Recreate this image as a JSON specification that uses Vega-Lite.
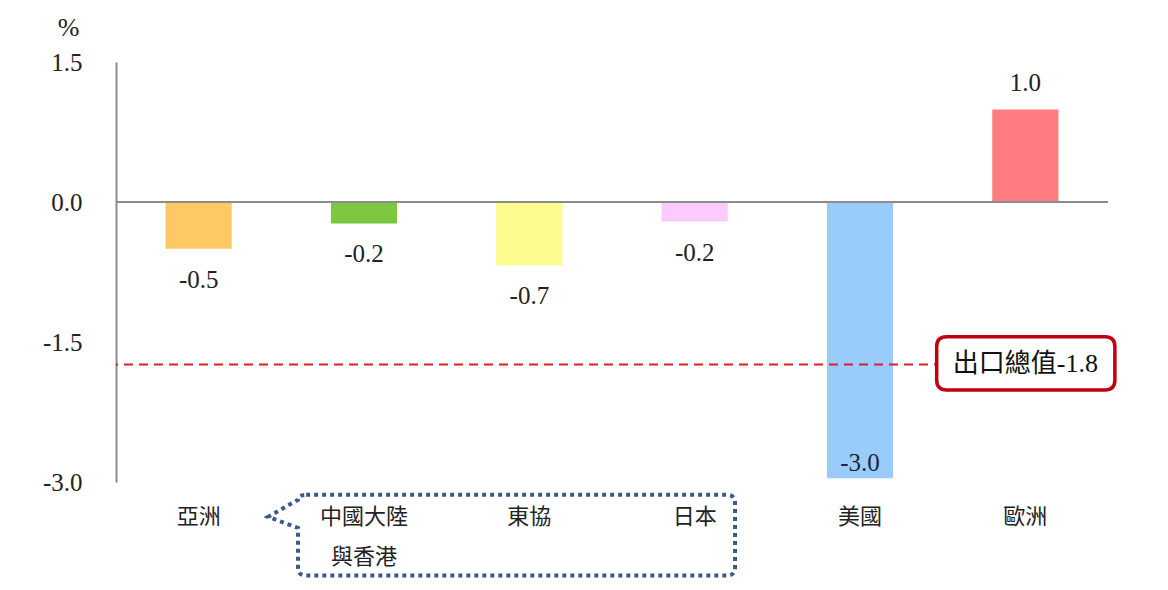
{
  "$schema": "https://vega.github.io/schema/vega-lite/v6.json",
  "autosize": {"type": "none"},
  "padding": {"left": 116, "top": 62, "right": 60, "bottom": 108},
  "width": 992,
  "height": 420,
  "background": "white",
  "config": {
    "view": {"stroke": null},
    "locale": {"number": {"decimal": ".", "thousands": ",", "grouping": [3], "currency": ["$", ""], "minus": "-"}}
  },
  "datasets": {
    "bars": [
      {"region": "亞洲", "value": -0.5},
      {"region": "中國大陸與香港", "value": -0.23},
      {"region": "東協", "value": -0.68},
      {"region": "日本", "value": -0.21},
      {"region": "美國", "value": -2.96},
      {"region": "歐洲", "value": 0.99}
    ],
    "total": [{"label": "出口總值-1.8", "value": -1.74}]
  },
  "encoding": {
    "x": {
      "field": "region", "type": "nominal", "sort": null,
      "scale": {"domain": ["亞洲", "中國大陸與香港", "東協", "日本", "美國", "歐洲"], "paddingInner": 0.6, "paddingOuter": 0.3},
      "axis": {
        "title": null, "domain": false, "ticks": false, "labelAngle": 0,
        "labelFont": "Noto Sans CJK TC", "labelFontSize": 22, "labelColor": "#222222",
        "labelPadding": 24, "labelLineHeight": 40,
        "labelExpr": "datum.value === '中國大陸與香港' ? ['中國大陸', '與香港'] : datum.value"
      }
    }
  },
  "layer": [
    {
      "data": {"name": "bars"},
      "mark": {"type": "bar"},
      "encoding": {
        "y": {
          "field": "value", "type": "quantitative",
          "scale": {"domain": [-3, 1.5], "nice": false, "zero": false},
          "axis": {
            "values": [1.5, 0, -1.5, -3], "format": ".1f", "grid": false, "ticks": false,
            "domainColor": "#8c8c8c", "domainWidth": 2,
            "labelFont": "Liberation Serif", "labelFontSize": 25, "labelColor": "#222222",
            "labelPadding": 34, "labelBaseline": "middle",
            "title": "%", "titleAngle": 0, "titleFont": "Liberation Serif", "titleFontSize": 26,
            "titleFontWeight": "normal", "titleColor": "#222222", "titleX": -48, "titleY": -35,
            "titleAlign": "center", "titleBaseline": "middle"
          }
        },
        "color": {
          "field": "region", "type": "nominal", "legend": null,
          "scale": {"domain": ["亞洲", "中國大陸與香港", "東協", "日本", "美國", "歐洲"],
                    "range": ["#fec865", "#7cc73f", "#fdfd8f", "#fccafc", "#99ccfa", "#ff7c80"]}
        }
      }
    },
    {
      "data": {"values": [{}]},
      "mark": {"type": "rule", "color": "#8c8c8c", "strokeWidth": 2},
      "encoding": {"x": null, "y": {"datum": 0, "type": "quantitative"}}
    },
    {
      "data": {"name": "total"},
      "mark": {"type": "rule", "color": "#dc1f26", "strokeWidth": 2, "strokeDash": [9, 6]},
      "encoding": {"x": null, "y": {"field": "value", "type": "quantitative"}}
    },
    {
      "data": {"name": "bars"},
      "transform": [{"filter": "datum.value < 0 && datum.region !== '美國'"}],
      "mark": {"type": "text", "font": "Liberation Serif", "fontSize": 25, "color": "#222222", "baseline": "middle", "align": "center", "dy": 31},
      "encoding": {
        "y": {"field": "value", "type": "quantitative"},
        "text": {"field": "value", "type": "quantitative", "format": ".1f"}
      }
    },
    {
      "data": {"name": "bars"},
      "transform": [{"filter": "datum.region === '美國'"}],
      "mark": {"type": "text", "font": "Liberation Serif", "fontSize": 25, "color": "#1c2636", "baseline": "middle", "align": "center", "dy": -15},
      "encoding": {
        "y": {"field": "value", "type": "quantitative"},
        "text": {"field": "value", "type": "quantitative", "format": ".1f"}
      }
    },
    {
      "data": {"name": "bars"},
      "transform": [{"filter": "datum.value > 0"}],
      "mark": {"type": "text", "font": "Liberation Serif", "fontSize": 25, "color": "#222222", "baseline": "middle", "align": "center", "dy": -27},
      "encoding": {
        "y": {"field": "value", "type": "quantitative"},
        "text": {"field": "value", "type": "quantitative", "format": ".1f"}
      }
    },
    {
      "data": {"name": "total"},
      "mark": {
        "type": "point", "filled": true, "opacity": 1, "fill": "white", "stroke": "#c00010", "strokeWidth": 3.5,
        "size": 32400,
        "shape": "M-0.875,-0.308 H0.885 Q0.995,-0.308 0.995,-0.198 V0.174 Q0.995,0.284 0.885,0.284 H-0.875 Q-0.985,0.284 -0.985,0.174 V-0.198 Q-0.985,-0.308 -0.875,-0.308 Z"
      },
      "encoding": {
        "x": {"datum": "歐洲", "type": "nominal"},
        "y": {"field": "value", "type": "quantitative"}
      }
    },
    {
      "data": {"name": "total"},
      "mark": {"type": "text", "font": "Liberation Serif, Noto Sans CJK TC", "fontSize": 26, "color": "#111111", "baseline": "middle", "align": "center"},
      "encoding": {
        "x": {"datum": "歐洲", "type": "nominal"},
        "y": {"field": "value", "type": "quantitative"},
        "text": {"field": "label"}
      }
    },
    {
      "data": {"values": [{}]},
      "mark": {
        "type": "point", "filled": false, "opacity": 1, "stroke": "#3d5a8a", "strokeWidth": 4,
        "strokeDash": [4, 4], "size": 274576,
        "shape": "M-0.852,-0.129 H0.754 Q0.785,-0.129 0.785,-0.098 V0.148 Q0.785,0.179 0.754,0.179 H-0.852 Q-0.883,0.179 -0.883,0.148 V-0.003 L-0.997,-0.045 L-0.883,-0.11 Q-0.883,-0.129 -0.852,-0.129 Z"
      },
      "encoding": {
        "x": {"datum": "東協", "type": "nominal"},
        "y": {"datum": -3.5, "type": "quantitative"}
      }
    }
  ]
}
